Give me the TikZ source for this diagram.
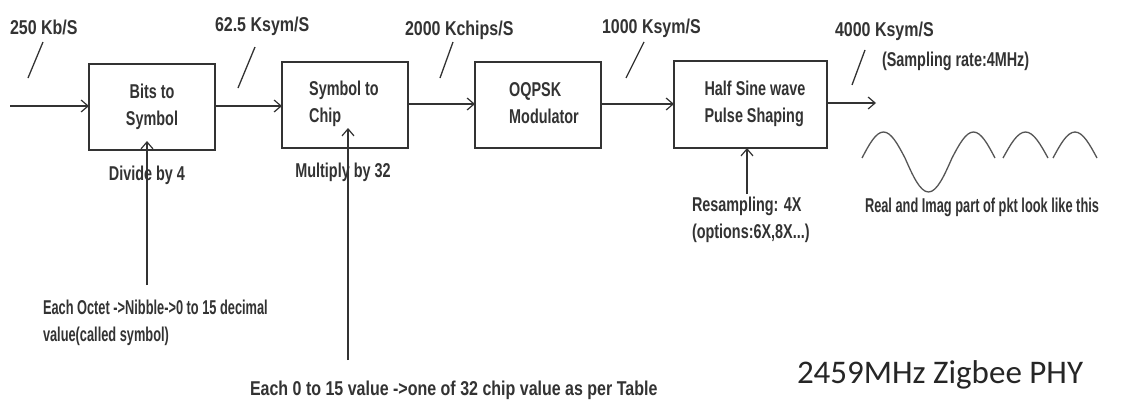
\documentclass[tikz,border=0pt]{standalone}
\usepackage{fontspec}
\usetikzlibrary{arrows.meta}
\newfontfamily\labA[FakeStretch=0.8]{Liberation Sans}
\newfontfamily\labB[FakeStretch=0.72]{Liberation Sans}
\newfontfamily\labC[FakeStretch=0.64]{Liberation Sans}
\newfontfamily\ttlfont{Carlito}
\definecolor{ink}{HTML}{333333}
\definecolor{wave}{HTML}{555555}
\begin{document}
\begin{tikzpicture}[x=1pt,y=-1pt,
  every node/.style={inner sep=0pt,outer sep=0pt},
  lab/.style={font=\labA\bfseries\fontsize{20}{27}\selectfont,text=ink,align=left},
  labn/.style={font=\labB\bfseries\fontsize{20}{27}\selectfont,text=ink,align=left},
  labc/.style={font=\labC\bfseries\fontsize{20}{27}\selectfont,text=ink,align=left},
  blk/.style={draw=ink,line width=1.3pt,minimum width=126pt,minimum height=86pt},
  arr/.style={draw=ink,line width=1.3pt,-{Straight Barb[length=7pt,width=12pt,line width=1.2pt]}},
  tick/.style={draw=ink,line width=1.3pt},
  sine/.style={draw=wave,line width=1.3pt}]
\useasboundingbox[fill=white] (0,0) rectangle (1135,402);
% blocks
\node[blk] (b1) at (152,107) {};
\node[blk] (b2) at (345,105) {};
\node[blk] (b3) at (538,105) {};
\node[blk,minimum width=153pt,minimum height=87pt] (b4) at (750.5,104.5) {};
% block texts
\node[labn,align=center] (t1) at (152,107) {Bits to\\Symbol};
\node[labn] (t2) at (344,104) {Symbol to\\Chip};
\node[labn] (t3) at (544,103) {OQPSK\\Modulator};
\node[labn] (t4) at (755,104) {Half Sine wave\\Pulse Shaping};
% main chain
\coordinate (in) at (10,106);
\coordinate (out) at (876,103);
\draw[arr] (in) -- (b1.west|-in);
\draw[arr] (b1.east|-0,106) -- (b2.west|-0,106);
\draw[arr] (b2.east|-0,104) -- (b3.west|-0,104);
\draw[arr] (b3.east|-0,104) -- (b4.west|-0,104);
\draw[arr] (b4.east|-out) -- (out);
% rate labels and tick marks
\node[lab,anchor=west] (r1) at (10,27) {250 Kb/S};
\node[lab,anchor=west] (r2) at (215,26) {62.5 Ksym/S};
\node[lab,anchor=west] (r3) at (405,30) {2000 Kchips/S};
\node[lab,anchor=west] (r4) at (602,28) {1000 Ksym/S};
\node[lab,anchor=west] (r5) at (835,31) {4000 Ksym/S};
\node[labn,anchor=west] (r6) at (882,61) {(Sampling rate:4MHz)};
\draw[tick] (43,42) -- (28,78);
\draw[tick] (255,47) -- (238,88);
\draw[tick] (453,42) -- (440,78);
\draw[tick] (644,42) -- (626,78);
\draw[tick] (865,50) -- (852,85);
% labels under blocks
\node[labn] (d1) at (147,175) {Divide by 4};
\node[labn] (d2) at (343,172) {Multiply by 32};
% vertical arrows
\coordinate (v1) at (147,285);
\coordinate (v2) at (348,360);
\coordinate (v3) at (747,194);
\draw[arr] (v1) -- (147,141);
\draw[arr] (v2) -- (348,128);
\draw[arr] (v3) -- (b4.south-|v3);
% notes
\node[labc,anchor=west] (n1) at (43,323) {Each Octet ->Nibble->0 to 15 decimal\\value(called symbol)};
\node[lab,anchor=west] (n2) at (250,390) {Each 0 to 15 value ->one of 32 chip value as per Table};
\node[labn,anchor=west] (n3) at (692,220) {Resampling: 4X\\(options:6X,8X...)};
\node[labc,anchor=west] (n4) at (865,207) {Real and Imag part of pkt look like this};
\node[anchor=west,font=\ttlfont\fontsize{33}{40}\selectfont,text=black!85] (ttl) at (797,375) {2459MHz Zigbee PHY};
% waveform
\draw[sine] (862,158) sin (883.5,132) cos (905,158) sin (928.5,192) cos (952,158)
            sin (973.5,132) cos (995,158);
\draw[sine] (1003,158) sin (1025.5,132) cos (1048,158);
\draw[sine] (1053,158) sin (1075,132) cos (1097,158);
\end{tikzpicture}
\end{document}
